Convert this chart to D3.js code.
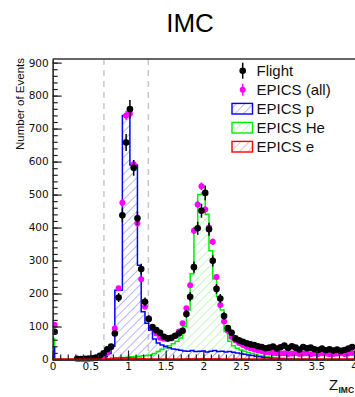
<!DOCTYPE html>
<html><head><meta charset="utf-8">
<script src="https://cdn.jsdelivr.net/npm/d3@7"></script>
<style>body{margin:0;background:#fff}svg{display:block}</style>
</head><body><svg id="c" width="355" height="397"></svg>
<script>
// ---- data (points at bin centres 0.025 + 0.05*i, i = 0..79) ----
const flight = [84,null,null,null,null,null,2,1,2,3,4,6,11,19,31,39,79,188,437,658,
  759,581,428,274,175,123,98,89,81,69,64,66,72,79,87,138,190,280,398,451,
  505,395,299,214,185,132,95,81,64,58,54,49,46,44,40,38,34,36,39,33,
  37,42,35,40,36,30,38,34,36,31,29,33,28,31,27,30,26,29,33,38];
const epicsAll = [105,null,null,null,null,null,null,null,null,1,2,4,6,10,20,38,94,216,475,740,
  745,592,413,243,160,125,95,79,66,63,62,64,72,85,110,155,225,390,470,525,
  455,400,357,250,165,115,87,68,58,50,44,38,34,30,27,25,22,21,20,19,
  18,19,17,18,20,17,18,19,16,18,17,19,18,16,17,18,19,17,18,20];
// ---- MC histograms (bins of 0.05 with lower edge -0.025 + 0.05*k, k = 0..80) ----
const epicsP = [39,0,0,0,0,0,0,0,0,0,0,1,2,4,8,18,40,210,210,740,
  740,590,590,286,145,110,89,62,50,44,40,36,32,30,28,26,25,27,24,25,
  26,23,25,27,24,25,23,24,22,20,18,16,14,12,10,8,6,5,4,3,
  2,2,1,1,0,0,0,0,0,0,0,0,0,0,0,0,0,0,0,0,0];
const epicsHe = [64,0,0,0,0,0,0,0,0,0,0,0,0,0,1,2,3,4,5,6,
  7,8,9,10,11,12,14,18,24,30,36,42,48,55,65,100,150,260,400,500,
  505,440,330,245,190,150,85,55,42,34,29,25,21,18,15,12,10,8,7,6,
  5,4,3,3,2,2,1,1,0,0,0,0,0,0,0,0,0,0,0,0,0];
const epicsE = [0,0,0,0,0,0,0,0,0,0,0,0,0,0,0,1,2,3,3,4,
  4,3,2,2,1,0,0,0,0,0,0,0,0,0,0,0,1,1,1,1,
  1,1,1,1,1,0,0,0,0,0,0,0,0,0,0,0,0,0,0,0,
  0,0,0,0,0,0,0,0,0,0,0,0,0,0,0,0,0,0,0,0,0];
const xTicks = [0,0.5,1,1.5,2,2.5,3,3.5,4];
const yTicks = [0,100,200,300,400,500,600,700,800,900];
const cutLines = [0.68, 1.27];
const legendLabels = ["Flight","EPICS (all)","EPICS p","EPICS He","EPICS e"];
const titleText = "IMC";
const yTitle = "Number of Events";

// ---- drawing ----
const svg = d3.select("#c");
const L = 52.7, R = 354, T = 59, B = 359.5;
const x = d3.scaleLinear().domain([0,4]).range([L,R]);
const y = d3.scaleLinear().domain([0,911]).range([B,T]);
const binW = 0.05;
const ptX = i => 0.025 + binW*i;
const mcLo = k => -0.025 + binW*k;

const defs = svg.append("defs");
defs.append("clipPath").attr("id","clip").append("rect")
  .attr("x",L).attr("y",T).attr("width",356-L).attr("height",B-T+2);
function hatch(id,color){
  const p = defs.append("pattern").attr("id",id).attr("patternUnits","userSpaceOnUse")
    .attr("width",6).attr("height",6).attr("patternTransform","rotate(45)");
  p.append("line").attr("x1",0).attr("y1",-1).attr("x2",0).attr("y2",7)
    .attr("stroke",color).attr("stroke-width",1.1);
}
hatch("hP","#7d7dff");
hatch("hHe","#8ef08e");
hatch("hE","#ff8a8a");

// title
svg.append("text").attr("x",190).attr("y",32).attr("text-anchor","middle")
  .attr("font-family","Liberation Sans, Arial, sans-serif").attr("font-size",26)
  .attr("fill","#000").text(titleText);

// cut lines
svg.append("g").selectAll("line").data(cutLines).join("line")
  .attr("x1",d=>x(d)).attr("x2",d=>x(d)).attr("y1",T).attr("y2",B)
  .attr("stroke","#c8c8c8").attr("stroke-width",1.5).attr("stroke-dasharray","6,5");

const plot = svg.append("g").attr("clip-path","url(#clip)");
function stepPts(vals){
  const pts=[[mcLo(0),0]];
  vals.forEach((v,k)=>{pts.push([mcLo(k),v]);pts.push([mcLo(k)+binW,v]);});
  pts.push([mcLo(vals.length-1)+binW,0]);
  return pts;
}
const lineGen = d3.line().x(d=>x(d[0])).y(d=>y(d[1]));
const hists = [
  {vals:epicsHe, fill:"url(#hHe)", stroke:"#00ee00", w:1.5},
  {vals:epicsP, fill:"url(#hP)", stroke:"#0000ff", w:1.5},
  {vals:epicsE, fill:"url(#hE)", stroke:"#ff0000", w:2}
];
hists.forEach(h=>{
  plot.append("path").attr("d",lineGen(stepPts(h.vals))+"Z").attr("fill",h.fill).attr("stroke","none");
});
hists.forEach(h=>{
  plot.append("path").attr("d",lineGen(stepPts(h.vals))).attr("fill","none")
    .attr("stroke",h.stroke).attr("stroke-width",h.w);
});

// EPICS (all) points
const allPts = epicsAll.map((v,i)=>({x:ptX(i),v})).filter(d=>d.v!==null);
const gA = plot.append("g");
gA.selectAll("line").data(allPts).join("line")
  .attr("x1",d=>x(d.x)).attr("x2",d=>x(d.x))
  .attr("y1",d=>y(d.v+0.5*Math.sqrt(d.v))).attr("y2",d=>y(Math.max(0,d.v-0.5*Math.sqrt(d.v))))
  .attr("stroke","#ff00ff").attr("stroke-width",1.5);
gA.selectAll("circle").data(allPts).join("circle")
  .attr("cx",d=>x(d.x)).attr("cy",d=>y(d.v)).attr("r",3).attr("fill","#ff00ff");

// Flight points
const fPts = flight.map((v,i)=>({x:ptX(i),v})).filter(d=>d.v!==null);
const gF = plot.append("g");
gF.selectAll("line").data(fPts).join("line")
  .attr("x1",d=>x(d.x)).attr("x2",d=>x(d.x))
  .attr("y1",d=>y(d.v+Math.sqrt(d.v))).attr("y2",d=>y(Math.max(0,d.v-Math.sqrt(d.v))))
  .attr("stroke","#000").attr("stroke-width",1.5);
gF.selectAll("circle").data(fPts).join("circle")
  .attr("cx",d=>x(d.x)).attr("cy",d=>y(d.v)).attr("r",3.3).attr("fill","#000");

// frame
svg.append("line").attr("x1",L).attr("x2",356).attr("y1",T).attr("y2",T)
  .attr("stroke","#333").attr("stroke-width",1.3);

// axes
const tickFont = "DejaVu Sans, sans-serif";
const yAx = svg.append("g").attr("transform",`translate(${L},0)`)
  .call(d3.axisLeft(y).tickValues(yTicks).tickSizeInner(-9).tickSizeOuter(0).tickPadding(4).tickFormat(d=>String(d)));
const yMinor = svg.append("g").attr("transform",`translate(${L},0)`)
  .call(d3.axisLeft(y).tickValues(d3.range(0,911,20)).tickSizeInner(-5).tickSizeOuter(0).tickFormat(""));
const xAx = svg.append("g").attr("transform",`translate(0,${B})`)
  .call(d3.axisBottom(x).tickValues(xTicks).tickSizeInner(-9).tickSizeOuter(0).tickPadding(3).tickFormat(d=>String(d)));
const xMinor = svg.append("g").attr("transform",`translate(0,${B})`)
  .call(d3.axisBottom(x).tickValues(d3.range(0,41).map(i=>i/10)).tickSizeInner(-5).tickSizeOuter(0).tickFormat(""));
[yAx,yMinor,xAx,xMinor].forEach(g=>{
  g.selectAll("line").attr("stroke","#222").attr("stroke-width",1.2);
  g.select(".domain").attr("stroke","#333").attr("stroke-width",1.3);
  g.selectAll("text").attr("font-family",tickFont).attr("font-size",10.5).attr("fill","#111");
});
// red zero line on top of x axis
plot.append("path").attr("d",lineGen(stepPts(epicsE))).attr("fill","none")
  .attr("stroke","#ff0000").attr("stroke-width",2);

// axis titles
svg.append("text").attr("transform","translate(24,58) rotate(-90)").attr("text-anchor","end")
  .attr("font-family","Liberation Sans, Arial, sans-serif").attr("font-size",11.5).attr("fill","#111").text(yTitle);
svg.append("text").attr("x",329).attr("y",390).attr("font-family","Liberation Sans, Arial, sans-serif")
  .attr("font-size",15).attr("fill","#111").text("Z");
svg.append("text").attr("x",338.5).attr("y",393).attr("font-family","Liberation Sans, Arial, sans-serif")
  .attr("font-size",8.5).attr("font-weight","bold").attr("fill","#111").text("IMC");

// legend
const lg = svg.append("g");
const ly0 = 70.7, ldy = 19;
const legFont = "Liberation Sans, Arial, sans-serif";
legendLabels.forEach((t,i)=>{
  const cy = ly0 + i*ldy;
  lg.append("text").attr("x",256.5).attr("y",cy+5.3).attr("font-family",legFont)
    .attr("font-size",15).attr("fill","#111").text(t);
});
// Flight marker
lg.append("line").attr("x1",242.7).attr("x2",242.7).attr("y1",ly0-8).attr("y2",ly0+8).attr("stroke","#000").attr("stroke-width",1.5);
lg.append("circle").attr("cx",242.7).attr("cy",ly0).attr("r",3.3).attr("fill","#000");
// EPICS all marker
lg.append("line").attr("x1",242.7).attr("x2",242.7).attr("y1",ly0+ldy-6).attr("y2",ly0+ldy+6).attr("stroke","#ff00ff").attr("stroke-width",1.5);
lg.append("circle").attr("cx",242.7).attr("cy",ly0+ldy).attr("r",3).attr("fill","#ff00ff");
const boxes = [{f:"url(#hP)",s:"#0000ff"},{f:"url(#hHe)",s:"#00ee00"},{f:"url(#hE)",s:"#ff0000"}];
boxes.forEach((b,j)=>{
  const cy = ly0 + (j+2)*ldy;
  lg.append("rect").attr("x",232).attr("y",cy-5.3).attr("width",20.5).attr("height",10.6)
    .attr("fill",b.f).attr("stroke",b.s).attr("stroke-width",1.4);
});
</script></body></html>
